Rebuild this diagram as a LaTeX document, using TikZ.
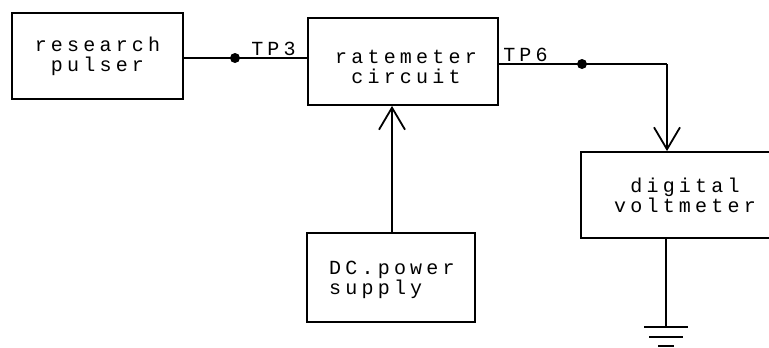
\documentclass[tikz,border=0pt]{standalone}
\usepackage{fontspec}
\newfontfamily\plotfont[LetterSpace=21]{Liberation Mono}
\usetikzlibrary{arrows.meta}
\tikzset{
  txt/.style={font=\plotfont\fontsize{20}{20}\selectfont},
  blk/.style={draw, line width=1.8pt, rectangle, inner sep=0pt, align=center, txt},
  wire/.style={line width=1.8pt},
  lbl/.style={txt, inner sep=0pt, anchor=base},
  tip/.style={-{Straight Barb[length=22pt,width=26pt,line width=1.8pt]}},
  dotc/.style={fill, circle, inner sep=0pt, minimum size=10pt}
}
\begin{document}
\begin{tikzpicture}[x=1pt,y=-1pt]
\clip (0,0) rectangle (769,348);
\fill[white] (0,0) rectangle (769,348);
\node[blk, minimum width=171pt, minimum height=86pt] (pulser) at (97.5,56) {research\\pulser};
\node[blk, minimum width=190pt, minimum height=87pt] (rate) at (403,61.5) {};
\node[txt, align=center, inner sep=0pt] (ratetxt) at (406,67) {ratemeter\\circuit};
\node[blk, minimum width=208pt, minimum height=86pt] (volt) at (685,195) {digital\\voltmeter};
\node[blk, minimum width=168pt, minimum height=89pt] (dc) at (391,277.5) {};
\node[txt, align=left, inner sep=0pt, anchor=west] (dctxt) at (329,280) {DC.power\\supply};
% TP3 wire
\coordinate (d1) at (235,58);
\node[dotc] (dot1) at (d1) {};
\draw[wire] (pulser.east |- d1) -- (d1) -- (d1 -| rate.west);
\node[lbl] (tp3) at (273.5,56) {TP3};
% TP6 wire
\coordinate (d2) at (582,64);
\coordinate (c2) at (667,64);
\node[dotc] (dot2) at (d2) {};
\draw[wire] (rate.east |- d2) -- (d2) -- (c2);
\draw[wire, tip] (c2) -- (c2 |- volt.north);
\node[lbl] (tp6) at (525.5,61) {TP6};
% power
\coordinate (p1) at (392,0);
\draw[wire, tip] (p1 |- dc.north) -- (p1 |- rate.south);
% ground
\coordinate (g) at (666,327);
\draw[wire] (g |- volt.south) -- (g);
\draw[wire] (644,327) -- (688,327);
\draw[wire] (649,337) -- (683,337);
\draw[wire] (658,346) -- (674,346);
\end{tikzpicture}
\end{document}
